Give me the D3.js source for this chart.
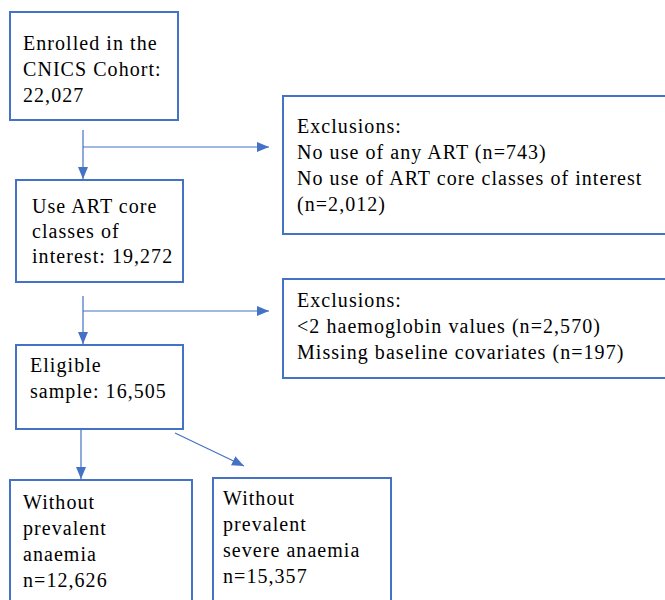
<!DOCTYPE html>
<html>
<head>
<meta charset="utf-8">
<script src="https://cdn.jsdelivr.net/npm/d3@7"></script>
<style>
  body { margin: 0; background: #fff; }
</style>
</head>
<body>
<script>
var width = 665, height = 600;

// text of each step
var enrolled = ["Enrolled in the", "CNICS Cohort:", "22,027"];
var useArt = ["Use ART core", "classes of", "interest: 19,272"];
var eligible = ["Eligible", "sample: 16,505"];
var noAnaemia = ["Without", "prevalent", "anaemia", "n=12,626"];
var noSevere = ["Without", "prevalent", "severe anaemia", "n=15,357"];
var excl1 = ["Exclusions:", "No use of any ART (n=743)", "No use of ART core classes of interest", "(n=2,012)"];
var excl2 = ["Exclusions:", "<2 haemoglobin values (n=2,570)", "Missing baseline covariates (n=197)"];

// layout: x, y, w, h of box, text offset and first baseline
var nodes = [
  {id: "enrolled", lines: enrolled, x: 10, y: 12, w: 168, h: 108, tx: 23, ty: 50, lh: 26},
  {id: "useArt", lines: useArt, x: 16, y: 180, w: 167, h: 102, tx: 32, ty: 213, lh: 25},
  {id: "eligible", lines: eligible, x: 16, y: 345, w: 167, h: 84, tx: 30, ty: 372, lh: 26},
  {id: "noAnaemia", lines: noAnaemia, x: 10, y: 480, w: 182, h: 140, tx: 23, ty: 509, lh: 26},
  {id: "noSevere", lines: noSevere, x: 213, y: 478, w: 178, h: 140, tx: 223, ty: 505, lh: 26},
  {id: "excl1", lines: excl1, x: 283, y: 96, w: 400, h: 138, tx: 297, ty: 133, lh: 26},
  {id: "excl2", lines: excl2, x: 283, y: 279, w: 400, h: 99, tx: 297, ty: 307, lh: 26}
];

// connectors [x1, y1, x2, y2], arrow at the end
var arrows = [
  [83, 130, 83, 179],
  [83, 147, 269, 147],
  [83, 296, 83, 344],
  [83, 311, 269, 311],
  [81, 430, 81, 479],
  [175, 433, 244, 466]
];

var svg = d3.select("body").append("svg")
    .attr("width", width)
    .attr("height", height);

svg.append("defs").append("marker")
    .attr("id", "head")
    .attr("viewBox", "0 0 12 10")
    .attr("refX", 12)
    .attr("refY", 5)
    .attr("markerWidth", 12)
    .attr("markerHeight", 10)
    .attr("markerUnits", "userSpaceOnUse")
    .attr("orient", "auto")
  .append("path")
    .attr("d", "M0,0L12,5L0,10Z")
    .attr("fill", "#4472c4");

var g = svg.selectAll(".node")
    .data(nodes)
    .enter()
    .append("g")
    .attr("class", "node");

g.append("rect")
    .attr("x", function(d) { return d.x; })
    .attr("y", function(d) { return d.y; })
    .attr("width", function(d) { return d.w; })
    .attr("height", function(d) { return d.h; })
    .attr("fill", "#fff")
    .attr("stroke", "#4472c4")
    .attr("stroke-width", 2);

// serif glyphs only show up to 20px here, so widen with letter spacing instead
g.each(function(d) {
  d3.select(this).selectAll("text")
    .data(d.lines)
    .enter()
    .append("text")
    .attr("x", d.tx)
    .attr("y", function(t, i) { return d.ty + i * d.lh; })
    .attr("font-family", "Liberation Serif")
    .attr("font-size", 20)
    .attr("letter-spacing", 1.05)
    .attr("fill", "#000")
    .text(function(t) { return t; });
});

svg.selectAll(".link")
    .data(arrows)
    .enter()
    .append("line")
    .attr("class", "link")
    .attr("x1", function(d) { return d[0]; })
    .attr("y1", function(d) { return d[1]; })
    .attr("x2", function(d) { return d[2]; })
    .attr("y2", function(d) { return d[3]; })
    .attr("stroke", "#4472c4")
    .attr("stroke-width", 1.2)
    .attr("marker-end", "url(#head)");
</script>
</body>
</html>
